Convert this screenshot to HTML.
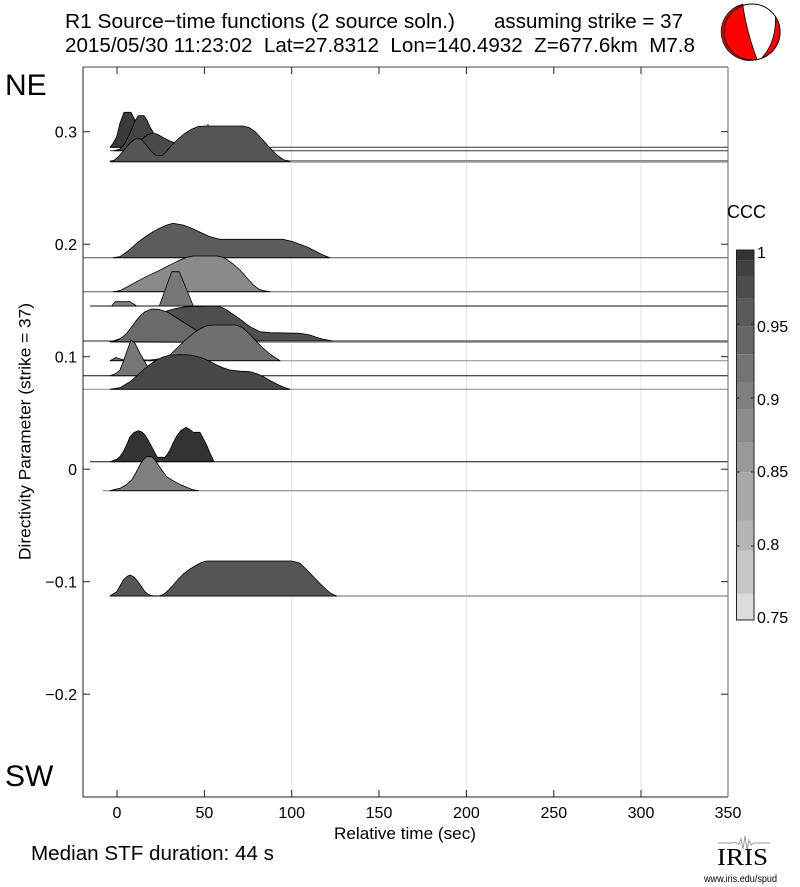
<!DOCTYPE html>
<html><head><meta charset="utf-8"><style>
html,body{margin:0;padding:0;background:#fff;}
svg{display:block;}
text{font-family:"Liberation Sans",Arial,sans-serif;fill:#000;}
</style></head><body>
<svg width="800" height="887" viewBox="0 0 800 887" xmlns="http://www.w3.org/2000/svg">
<rect x="0" y="0" width="800" height="887" fill="#fff"/>
<!-- titles -->
<text x="65" y="28" font-size="20.5" textLength="390" lengthAdjust="spacingAndGlyphs">R1 Source−time functions (2 source soln.)</text>
<text x="494" y="28" font-size="20.5" textLength="189" lengthAdjust="spacingAndGlyphs">assuming strike = 37</text>
<text x="65" y="52" font-size="20.5" textLength="630" lengthAdjust="spacingAndGlyphs" xml:space="preserve">2015/05/30 11:23:02  Lat=27.8312  Lon=140.4932  Z=677.6km  M7.8</text>
<!-- beachball -->
<circle cx="752" cy="32" r="28" fill="#fff"/>
<path d="M742.7,4.2 A28,28 0 0 0 757,59.5 C752,46 746,28 742.7,4.2 Z" fill="#f00" stroke="#000" stroke-width="0.8"/>
<path d="M775.5,16.7 A28,28 0 0 1 761.5,58.3 C769,50 776,38 775.5,16.7 Z" fill="#f00" stroke="#000" stroke-width="0.8"/>
<circle cx="752" cy="32" r="28" fill="none" stroke="#000" stroke-width="1"/>
<!-- NE / SW -->
<text x="5" y="95" font-size="30">NE</text>
<text x="5" y="786" font-size="30">SW</text>
<!-- grid -->
<g stroke="#e6e6e6" stroke-width="1">
<line x1="291.7" y1="67" x2="291.7" y2="797"/>
<line x1="466.4" y1="67" x2="466.4" y2="797"/>
<line x1="641" y1="67" x2="641" y2="797"/>
</g>
<!-- traces -->
<g stroke-linejoin="round">
<!-- T1 -->
<line x1="110" y1="147.3" x2="727.5" y2="147.3" stroke="#333" stroke-width="1"/>
<path d="M110,147.3 L113,143.5 L116.7,136.7 L120,123 L124,112.3 L131,112.3 L135,120 L139,132 L143,142 L147,147.3 Z" fill="#3a3a3a" stroke="#000" stroke-width="0.8"/>
<!-- T2 -->
<line x1="110" y1="150.7" x2="727.5" y2="150.7" stroke="#333" stroke-width="1"/>
<path d="M114,150.7 L120,149 L125,143.3 L130,133 L135,121 L138.3,115.7 L144,115.7 L147,120 L150,127 L153,132 L157,139 L162,147 L166,150.7 Z" fill="#444" stroke="#000" stroke-width="0.8"/>
<!-- T3 -->
<line x1="110" y1="160.7" x2="727.5" y2="160.7" stroke="#777" stroke-width="1.2"/>
<path d="M113,160.7 L125,156 L135,147 L142,139 L148,134.5 L152,133.3 L157,134 L163,137.5 L170,141 L176,143.5 L182,148 L190,155 L198,160.7 Z" fill="#4a4a4a" stroke="#000" stroke-width="0.8"/>
<!-- T4 -->
<line x1="110" y1="162" x2="727.5" y2="162" stroke="#888" stroke-width="1.2"/>
<path d="M110,161.5 L114,160.5 L119,156 L125,149 L131,142 L135,139 L138.3,138.3 L142,140 L146,144.5 L151,151 L156,155.5 L162,155.7 L166,152 L171,146 L177,140 L184,134 L191,129.5 L198,126.5 L205,126 L243,126 L249,127.5 L255,131.5 L262,139 L270,148 L277,155 L283,159.5 L290,161.5 Z" fill="#555" stroke="#000" stroke-width="0.8"/>
<line x1="208" y1="124" x2="208" y2="126" stroke="#000" stroke-width="1"/>
<!-- T5 -->
<line x1="83" y1="257.7" x2="727.5" y2="257.7" stroke="#555" stroke-width="1"/>
<path d="M113,257.7 L120,256.7 L128,251 L137,243 L145,237 L153,231.7 L160,228 L167,225 L173,223.3 L183,225 L190,227.5 L197,230.7 L204,234 L210,236.7 L220,239.3 L283,239.3 L293,241.7 L302,245 L310,248.3 L317,252 L323,255 L330,257.7 Z" fill="#5c5c5c" stroke="#000" stroke-width="0.8"/>
<!-- T6 -->
<line x1="83" y1="291.7" x2="727.5" y2="291.7" stroke="#888" stroke-width="1.3"/>
<path d="M113.3,291.7 L120,290.7 L128,286.5 L136.7,281.7 L146,276.7 L156.7,271.7 L165,267.5 L173.3,263.3 L180,260 L186.7,257.3 L193.3,256 L216.7,256 L222,257 L226.7,259.3 L233,264 L240,270 L247,278 L253.3,285 L258,288.7 L263.3,290.7 L270,291.7 Z" fill="#8a8a8a" stroke="#000" stroke-width="0.8"/>
<!-- T7 -->
<line x1="90" y1="306" x2="727.5" y2="306" stroke="#111" stroke-width="1"/>
<path d="M111.7,306 L115,301.7 L130,301.7 L136.7,306 Z" fill="#808080" stroke="#000" stroke-width="0.8"/>
<path d="M159.3,306 L171.7,271.7 L179.3,271.7 L193.3,306 Z" fill="#777" stroke="#000" stroke-width="0.8"/>
<!-- S_b -->
<line x1="83" y1="341" x2="727.5" y2="341" stroke="#222" stroke-width="1"/>
<path d="M113,341 L125,337 L140,328 L152,318 L160,313 L166.7,311 L176.7,308.3 L186.7,306.7 L216.7,306 L222,307.5 L226.7,310 L236.7,316.7 L243,321.5 L250,326.7 L260,331.7 L270,332.7 L300,333.3 L310,335 L317,337.5 L323.3,339.3 L333.3,341 Z" fill="#4f4f4f" stroke="#000" stroke-width="0.8"/>
<!-- S_a -->
<line x1="110" y1="342.3" x2="727.5" y2="342.3" stroke="#888" stroke-width="1"/>
<path d="M110,341.7 L116.7,340.7 L122,337.5 L126.7,333.3 L132,326.5 L136.7,320 L141,315 L145,311.7 L151.7,309 L158.3,309.3 L166.7,311.7 L173,315.5 L180,320 L188,325 L196.7,330.7 L204,335 L210,338.3 L220,342.3 Z" fill="#6a6a6a" stroke="#000" stroke-width="0.8"/>
<!-- S_c -->
<line x1="110" y1="360.7" x2="727.5" y2="360.7" stroke="#888" stroke-width="1"/>
<path d="M110,360.7 L116,357.5 L122,359.5 L150,360 L162,358.5 L170,355 L180,345 L187,338.5 L193.3,333.3 L200,329 L206.7,325.7 L213.3,325 L235,325 L240,326.5 L243.3,328.3 L250,334.5 L256.7,341.7 L263,348 L270,354 L275,357.5 L280,360.7 Z" fill="#707070" stroke="#000" stroke-width="0.8"/>
<!-- S_d -->
<line x1="83" y1="375.7" x2="727.5" y2="375.7" stroke="#111" stroke-width="1"/>
<path d="M110,375.7 L116,373.5 L120,370 L123.5,361 L126.7,351.7 L131,340 L135,343.3 L140,353.3 L146.7,365 L151.7,371.7 L156.7,375.7 Z" fill="#767676" stroke="#000" stroke-width="0.8"/>
<!-- S_e -->
<line x1="83" y1="389.3" x2="727.5" y2="389.3" stroke="#888" stroke-width="1"/>
<path d="M110,389.3 L120,387.7 L130,381.7 L136,376.5 L143.3,370 L150,364.5 L156.7,360 L163,357 L170,355 L180,354.7 L190,355 L197,356.5 L203.3,358.3 L210,361.5 L216.7,365 L223,367.7 L230,370 L240,371.2 L250,371.7 L257,373.8 L263.3,376.7 L270,380.5 L276.7,384 L283,387 L290,389.3 Z" fill="#474747" stroke="#000" stroke-width="0.8"/>
<!-- T_z1 -->
<line x1="90" y1="461.7" x2="727.5" y2="461.7" stroke="#111" stroke-width="1"/>
<path d="M110,461.7 L116.7,459.3 L120,456.5 L123.3,451.7 L127,444 L130,436.7 L134,432.5 L138.3,430.7 L142,432 L145,435 L148,440 L151.7,446.7 L154.5,452 L157.3,457.3 L165,457.3 L167.5,454 L170,450 L173,443 L176.7,436 L181,430.5 L186,427.3 L189,429 L193.3,432.3 L200,432.3 L203,438 L206.7,445 L210,453 L214,461.7 Z" fill="#333" stroke="#000" stroke-width="0.8"/>
<!-- T_z2 -->
<line x1="103" y1="490.7" x2="727.5" y2="490.7" stroke="#888" stroke-width="1.2"/>
<path d="M110,490.7 L120,488.3 L126,485 L131.7,480 L136,472.5 L140,465 L143.5,459.5 L146.7,456.7 L151.7,456.7 L155,460 L158.3,465 L162.5,471 L166.7,476.7 L171.5,479.8 L176.7,482.7 L182,485.3 L186.7,487.3 L192,489.5 L198.3,490.7 Z" fill="#7f7f7f" stroke="#000" stroke-width="0.8"/>
<!-- T_m1 -->
<line x1="110" y1="596" x2="727.5" y2="596" stroke="#888" stroke-width="1.2"/>
<path d="M110,596 L116.7,591.7 L120,586 L123.3,580 L127,576.5 L130,575 L133.5,576.7 L136.7,580 L141,586 L145,591.7 L148.5,594.5 L151.7,595.7 L158.3,596 L162,595 L165,593.3 L169,589.5 L173.3,585 L178,579.5 L183.3,574 L190,569 L196.7,565 L201.5,562.5 L206.7,561 L291.7,561 L296,562 L300,563.3 L306,569 L313.3,576.7 L320,583.5 L326.7,590 L331,593.5 L336.7,596 Z" fill="#555" stroke="#000" stroke-width="0.8"/>
</g>
<!-- axes box -->
<g stroke="#222" stroke-width="1" fill="none">
<line x1="83" y1="67" x2="83" y2="797"/>
<line x1="83" y1="797" x2="728" y2="797"/>
<line x1="83" y1="67" x2="728" y2="67" stroke="#444"/>
<line x1="728" y1="67" x2="728" y2="797" stroke="#666"/>
</g>
<!-- ticks -->
<g stroke="#222" stroke-width="1">
<line x1="83" y1="131.7" x2="90" y2="131.7"/><line x1="721" y1="131.7" x2="728" y2="131.7"/>
<line x1="83" y1="244.2" x2="90" y2="244.2"/><line x1="721" y1="244.2" x2="728" y2="244.2"/>
<line x1="83" y1="356.7" x2="90" y2="356.7"/><line x1="721" y1="356.7" x2="728" y2="356.7"/>
<line x1="83" y1="469.2" x2="90" y2="469.2"/><line x1="721" y1="469.2" x2="728" y2="469.2"/>
<line x1="83" y1="581.7" x2="90" y2="581.7"/><line x1="721" y1="581.7" x2="728" y2="581.7"/>
<line x1="83" y1="694.2" x2="90" y2="694.2"/><line x1="721" y1="694.2" x2="728" y2="694.2"/>
<line x1="117" y1="790" x2="117" y2="797"/><line x1="117" y1="67" x2="117" y2="74"/>
<line x1="204.4" y1="790" x2="204.4" y2="797"/><line x1="204.4" y1="67" x2="204.4" y2="74"/>
<line x1="291.7" y1="790" x2="291.7" y2="797"/><line x1="291.7" y1="67" x2="291.7" y2="74"/>
<line x1="379" y1="790" x2="379" y2="797"/><line x1="379" y1="67" x2="379" y2="74"/>
<line x1="466.4" y1="790" x2="466.4" y2="797"/><line x1="466.4" y1="67" x2="466.4" y2="74"/>
<line x1="553.8" y1="790" x2="553.8" y2="797"/><line x1="553.8" y1="67" x2="553.8" y2="74"/>
<line x1="641" y1="790" x2="641" y2="797"/><line x1="641" y1="67" x2="641" y2="74"/>
</g>
<!-- y tick labels -->
<g font-size="16" text-anchor="end">
<text x="77" y="137.5">0.3</text>
<text x="77" y="250">0.2</text>
<text x="77" y="362.5">0.1</text>
<text x="77" y="475">0</text>
<text x="77" y="587.5">−0.1</text>
<text x="77" y="700">−0.2</text>
</g>
<!-- x tick labels -->
<g font-size="16" text-anchor="middle">
<text x="117" y="818">0</text>
<text x="204.4" y="818">50</text>
<text x="291.7" y="818">100</text>
<text x="379" y="818">150</text>
<text x="466.4" y="818">200</text>
<text x="553.8" y="818">250</text>
<text x="641" y="818">300</text>
<text x="728" y="818">350</text>
</g>
<text x="334" y="839" font-size="17" textLength="142" lengthAdjust="spacingAndGlyphs">Relative time (sec)</text>
<text transform="translate(30.5,560) rotate(-90)" font-size="17" textLength="257" lengthAdjust="spacingAndGlyphs">Directivity Parameter (strike = 37)</text>
<text x="31" y="860" font-size="20.5" textLength="243" lengthAdjust="spacingAndGlyphs">Median STF duration: 44 s</text>
<!-- colorbar -->
<text x="727" y="218" font-size="18" textLength="39" lengthAdjust="spacingAndGlyphs">CCC</text>
<rect x="736.5" y="250" width="17.5" height="10.4" fill="#333"/>
<rect x="736.5" y="260.4" width="17.5" height="15.6" fill="#404040"/>
<rect x="736.5" y="276" width="17.5" height="22.6" fill="#4d4d4d"/>
<rect x="736.5" y="298.6" width="17.5" height="27.8" fill="#5a5a5a"/>
<rect x="736.5" y="326.4" width="17.5" height="27.8" fill="#666"/>
<rect x="736.5" y="354.2" width="17.5" height="27.8" fill="#737373"/>
<rect x="736.5" y="382" width="17.5" height="27.8" fill="#7f7f7f"/>
<rect x="736.5" y="409.8" width="17.5" height="33" fill="#8c8c8c"/>
<rect x="736.5" y="442.8" width="17.5" height="29.5" fill="#999"/>
<rect x="736.5" y="472.3" width="17.5" height="48.6" fill="#a8a8a8"/>
<rect x="736.5" y="520.9" width="17.5" height="29.6" fill="#b5b5b5"/>
<rect x="736.5" y="550.5" width="17.5" height="43.4" fill="#c6c6c6"/>
<rect x="736.5" y="593.9" width="17.5" height="26.1" fill="#dcdcdc"/>
<rect x="736.5" y="250" width="17.5" height="370" fill="none" stroke="#222" stroke-width="1"/>
<g stroke="#222" stroke-width="1">
<line x1="736.5" y1="324" x2="739.5" y2="324"/><line x1="751" y1="324" x2="754" y2="324"/>
<line x1="736.5" y1="398" x2="739.5" y2="398"/><line x1="751" y1="398" x2="754" y2="398"/>
<line x1="736.5" y1="472" x2="739.5" y2="472"/><line x1="751" y1="472" x2="754" y2="472"/>
<line x1="736.5" y1="546" x2="739.5" y2="546"/><line x1="751" y1="546" x2="754" y2="546"/>
</g>
<g font-size="16">
<text x="757" y="258">1</text>
<text x="757" y="332">0.95</text>
<text x="757" y="405">0.9</text>
<text x="757" y="477">0.85</text>
<text x="757" y="550">0.8</text>
<text x="757" y="623">0.75</text>
</g>
<!-- IRIS logo -->
<polyline points="718,843 730,843 736,842.5 739,844 741,839 743,849 745,836 747,850 749,840 751,845 754,843 770,843" fill="none" stroke="#999" stroke-width="1"/>
<text x="717" y="865" font-size="24" font-family="Liberation Serif, serif" style="font-family:'Liberation Serif',serif" textLength="51" lengthAdjust="spacingAndGlyphs">IRIS</text>
<text x="704" y="882" font-size="10" textLength="73" lengthAdjust="spacingAndGlyphs">www.iris.edu/spud</text>
</svg>
</body></html>
